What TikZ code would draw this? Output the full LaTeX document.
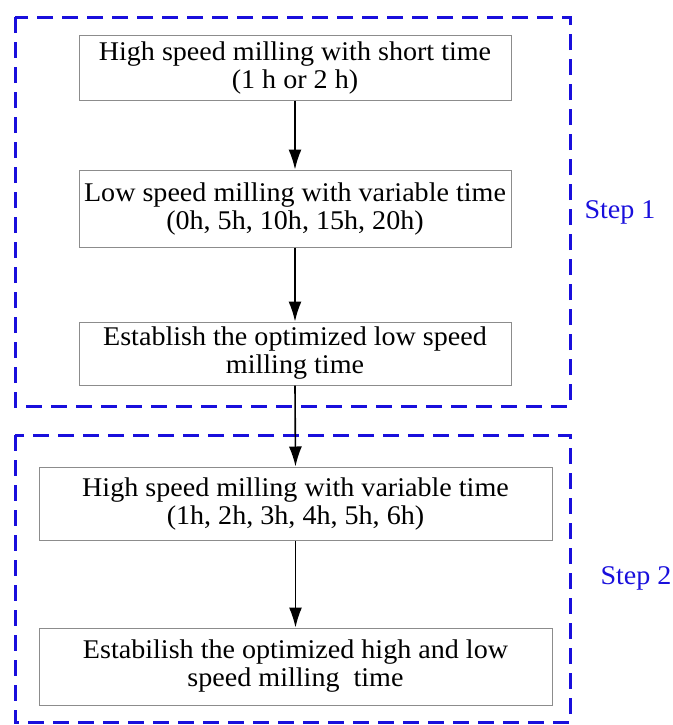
\documentclass[tikz,border=0pt]{standalone}
\usepackage{fontspec}
\setmainfont{Liberation Serif}[FakeStretch=1.04]
\usepackage{xcolor}
\usepackage{tikz}
\usetikzlibrary{arrows.meta,positioning}

\definecolor{frameblue}{RGB}{25,15,220}

\tikzset{
  stepbox/.style={draw=gray!90, line width=0.5pt, align=center, inner sep=2pt,
    font=\fontsize{13.5}{14}\selectfont},
  stepframe/.style={draw=frameblue, line width=1.5pt, dash pattern=on 8pt off 4.5pt},
  steplabel/.style={text=frameblue, font=\fontsize{13.5}{14}\selectfont},
  flow/.style={-{Latex[length=10pt,width=6.5pt]}, line width=0.8pt}
}

\begin{document}
\begin{tikzpicture}[x=0.5pt, y=-0.5pt]
\useasboundingbox (0,0) rectangle (673,725);

\draw[stepframe] (15,17) rectangle (570,406);
\draw[stepframe] (15,435) rectangle (570,722);

\node[stepbox, minimum width=216pt, minimum height=32.5pt] (b1) at (295,67.5)
  {High speed milling with short time\\(1 h or 2 h)};
\node[stepbox, minimum width=216pt, minimum height=38.5pt] (b2) at (295,208.5)
  {Low speed milling with variable time\\(0h, 5h, 10h, 15h, 20h)};
\node[stepbox, minimum width=216pt, minimum height=31.5pt] (b3) at (295,353.5)
  {Establish the optimized low speed\\milling time};
\node[stepbox, minimum width=256.5pt, minimum height=36.5pt] (b4) at (295.5,503.5)
  {High speed milling with variable time\\(1h, 2h, 3h, 4h, 5h, 6h)};
\node[stepbox, minimum width=256.5pt, minimum height=38.5pt] (b5) at (295.5,666.5)
  {Estabilish the optimized high and low\\speed milling\ \ time};

\node[steplabel] (s1) at (620,212) {Step 1};
\node[steplabel] (s2) at (636,578) {Step 2};

\draw[flow] (b1.south) -- (b2.north);
\draw[flow] (b2.south) -- (b3.north);
\draw[flow] (b3.south) -- (b4.north);
\draw[flow] (b4.south) -- (b5.north);
\end{tikzpicture}
\end{document}
